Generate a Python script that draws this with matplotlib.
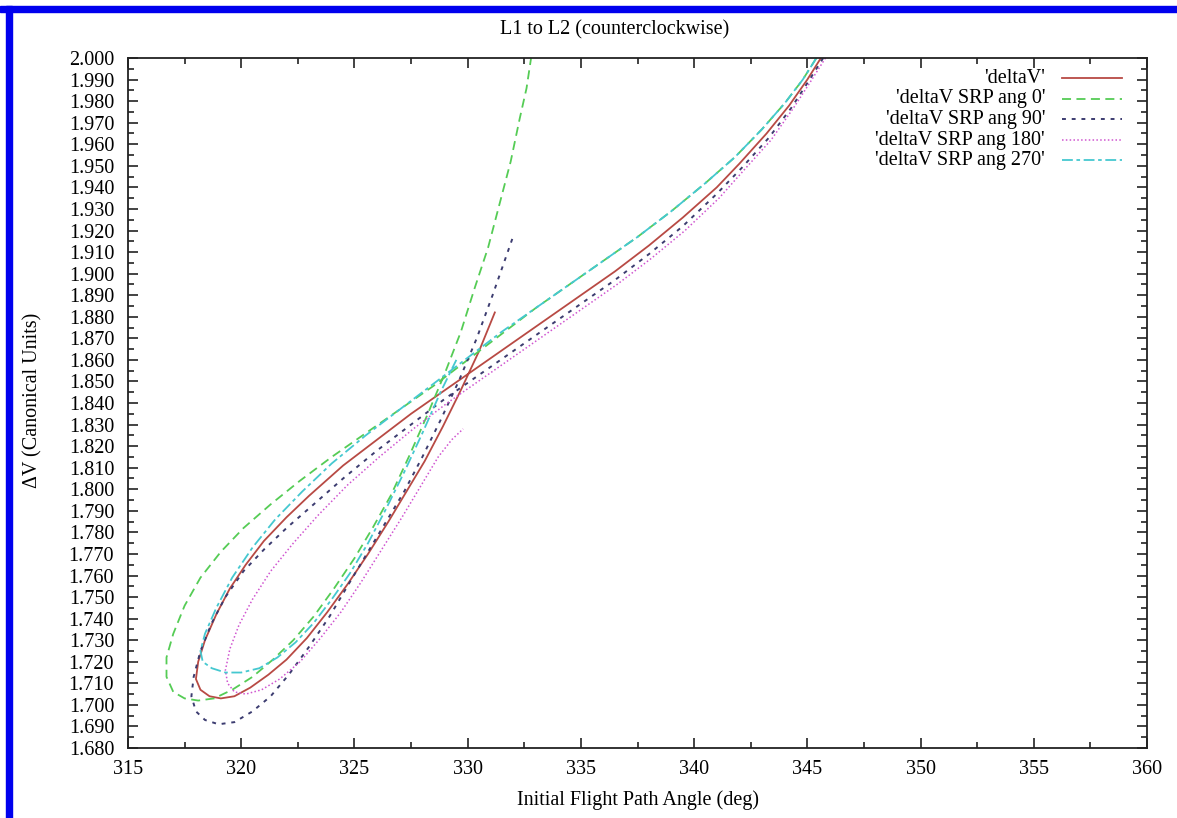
import numpy as np
import matplotlib
matplotlib.use("Agg")
import matplotlib.pyplot as plt
from matplotlib.patches import Rectangle
from matplotlib.ticker import MultipleLocator, FormatStrFormatter

# curves (angle in deg, deltaV in canonical units)
dv_x = [345.6, 345.0, 344.2, 343.2, 342.0, 341.0, 339.5, 338.0, 336.5, 335.0, 333.5, 332.0,
        330.5, 329.0, 327.5, 326.0, 324.5, 323.0, 322.0, 321.0, 320.2, 319.5, 318.9, 318.4,
        318.1, 318.0, 318.2, 318.6, 319.1, 319.7, 320.4, 321.2, 322.0, 322.9, 323.8, 324.7,
        325.6, 326.5, 327.3, 328.1, 328.9, 329.7, 330.5, 331.2]
dv_y = [2.000, 1.990, 1.978, 1.965, 1.951, 1.940, 1.926, 1.913, 1.901, 1.890, 1.879, 1.868,
        1.857, 1.846, 1.835, 1.823, 1.811, 1.797, 1.787, 1.776, 1.765, 1.754, 1.742, 1.730,
        1.720, 1.712, 1.707, 1.704, 1.703, 1.704, 1.708, 1.714, 1.721, 1.731, 1.743, 1.756,
        1.770, 1.785, 1.799, 1.813, 1.829, 1.846, 1.864, 1.882]

a0_x = [345.4, 344.8, 344.0, 343.0, 341.8, 340.5, 339.0, 337.5, 336.0, 334.5, 333.0, 331.5,
        330.0, 328.5, 327.0, 325.5, 324.0, 322.6, 321.3, 320.1, 319.1, 318.2, 317.5, 317.0,
        316.7, 316.7, 317.0, 317.5, 318.1, 318.8, 319.6, 320.5, 321.4, 322.3, 323.2, 324.1,
        325.0, 325.8, 326.6, 327.4, 328.2, 329.0, 329.7, 330.3, 330.9, 331.4, 331.9, 332.3,
        332.6, 332.8]
a0_y = [2.000, 1.990, 1.979, 1.967, 1.954, 1.942, 1.929, 1.917, 1.906, 1.895, 1.884, 1.872,
        1.860, 1.848, 1.837, 1.826, 1.815, 1.804, 1.793, 1.782, 1.771, 1.759, 1.746, 1.733,
        1.722, 1.713, 1.706, 1.703, 1.702, 1.703, 1.707, 1.713, 1.721, 1.730, 1.741, 1.754,
        1.768, 1.782, 1.797, 1.815, 1.834, 1.854, 1.873, 1.893, 1.912, 1.932, 1.952, 1.972,
        1.986, 2.000]

a90_x = [345.7, 345.1, 344.3, 343.3, 342.1, 341.0, 339.5, 338.0, 336.5, 335.0, 333.5, 332.0,
         330.5, 329.0, 327.5, 326.0, 324.5, 323.2, 322.0, 321.0, 320.1, 319.3, 318.7, 318.2,
         317.9, 317.8, 318.0, 318.4, 319.0, 319.7, 320.5, 321.3, 322.1, 323.0, 323.9, 324.8,
         325.6, 326.4, 327.2, 328.0, 328.8, 329.6, 330.4, 331.1, 331.7, 332.0]
a90_y = [2.000, 1.990, 1.977, 1.963, 1.949, 1.937, 1.922, 1.909, 1.897, 1.886, 1.875, 1.864,
         1.853, 1.842, 1.830, 1.818, 1.805, 1.793, 1.782, 1.772, 1.762, 1.750, 1.738, 1.725,
         1.713, 1.704, 1.697, 1.693, 1.691, 1.692, 1.697, 1.704, 1.714, 1.727, 1.741, 1.757,
         1.771, 1.785, 1.799, 1.815, 1.832, 1.850, 1.870, 1.890, 1.908, 1.917]

a180_x = [345.8, 345.2, 344.4, 343.4, 342.2, 341.1, 339.6, 338.1, 336.6, 335.1, 333.6, 332.1,
          330.6, 329.1, 327.6, 326.1, 324.7, 323.4, 322.3, 321.3, 320.5, 319.9, 319.5, 319.3,
          319.4, 319.7, 320.2, 320.9, 321.7, 322.6, 323.5, 324.4, 325.3, 326.2, 327.1, 327.9,
          328.7, 329.3, 329.8]
a180_y = [2.000, 1.990, 1.977, 1.962, 1.948, 1.935, 1.920, 1.907, 1.895, 1.884, 1.873, 1.862,
          1.851, 1.840, 1.828, 1.815, 1.802, 1.788, 1.775, 1.762, 1.749, 1.737, 1.726, 1.716,
          1.710, 1.706, 1.705, 1.707, 1.712, 1.720, 1.731, 1.743, 1.757, 1.772, 1.787, 1.801,
          1.815, 1.823, 1.828]

a270_x = [345.4, 344.8, 344.0, 343.0, 341.8, 340.5, 339.0, 337.5, 336.0, 334.5, 333.0, 331.5,
          330.0, 328.5, 327.0, 325.5, 324.0, 322.7, 321.5, 320.5, 319.6, 318.9, 318.4, 318.2,
          318.3, 318.7, 319.3, 320.0, 320.8, 321.6, 322.4, 323.2, 324.0, 324.8, 325.6, 326.4,
          327.2, 328.0, 328.8, 329.5]
a270_y = [2.000, 1.990, 1.979, 1.967, 1.954, 1.942, 1.929, 1.917, 1.906, 1.895, 1.884, 1.873,
          1.861, 1.849, 1.837, 1.825, 1.812, 1.799, 1.786, 1.773, 1.759, 1.745, 1.733, 1.725,
          1.720, 1.717, 1.715, 1.715, 1.717, 1.722, 1.729, 1.738, 1.749, 1.761, 1.775, 1.791,
          1.808, 1.826, 1.845, 1.860]

labels = ["'deltaV'", "'deltaV SRP ang 0'", "'deltaV SRP ang 90'",
          "'deltaV SRP ang 180'", "'deltaV SRP ang 270'"]

plt.rcParams['font.family'] = ['Liberation Serif', 'DejaVu Serif']
plt.rcParams['font.size'] = 14.5

fig = plt.figure(figsize=(11.77, 8.18), dpi=100)
ax = fig.add_axes([128/1177, 1 - 748/818, 1019/1177, 690/818])

styles = [
    dict(color='#b84a44', lw=1.3, ls='-'),
    dict(color='#55cc55', lw=1.3, ls=(0, (5, 3))),
    dict(color='#3c3c70', lw=1.4, ls=(0, (2, 3))),
    dict(color='#d055d0', lw=1.1, ls=(0, (1, 1.5))),
    dict(color='#45c8d0', lw=1.3, ls=(0, (6, 2, 2, 2))),
]
series = [(dv_x, dv_y), (a0_x, a0_y), (a90_x, a90_y), (a180_x, a180_y), (a270_x, a270_y)]

for (xs, ys), st in zip(series, styles):
    ax.plot(xs, ys, **st)

ax.set_xlim(315, 360)
ax.set_ylim(1.68, 2.0)
ax.xaxis.set_major_locator(MultipleLocator(5))
ax.xaxis.set_minor_locator(MultipleLocator(2.5))
ax.yaxis.set_major_locator(MultipleLocator(0.01))
ax.yaxis.set_minor_locator(MultipleLocator(0.005))
ax.yaxis.set_major_formatter(FormatStrFormatter('%.3f'))
ax.tick_params(which='both', direction='in', top=True, right=True, color='#222222')
ax.tick_params(which='major', length=7, width=1.2)
ax.tick_params(which='minor', length=4, width=1.2)
ax.tick_params(axis='y', pad=10)
ax.tick_params(axis='x', pad=9)
for sp in ax.spines.values():
    sp.set_linewidth(1.3)
    sp.set_color('#222222')

# legend drawn by hand so texts are right aligned like gnuplot
rows = [0.971, 0.941, 0.911, 0.881, 0.852]
for lab, st, yy in zip(labels, styles, rows):
    ax.text(0.900, yy, lab, transform=ax.transAxes, ha='right', va='center')
    ax.plot([0.9166, 0.9755], [yy, yy], transform=ax.transAxes, clip_on=False, **st)

fig.text(615/1177, 1 - 30/818, 'L1 to L2 (counterclockwise)', ha='center', va='center')
fig.text(638/1177, 1 - 800/818, 'Initial Flight Path Angle (deg)', ha='center', va='center')
fig.text(33/1177, 1 - 400/818, '\u0394V (Canonical Units)', ha='center', va='center', rotation=90)

# blue frame on the top and left edge
fig.patches.append(Rectangle((0, 1 - 12/818), 1, 6/818, transform=fig.transFigure,
                             color='#0000ee', zorder=10))
fig.patches.append(Rectangle((6/1177, 0), 6/1177, 1 - 6/818, transform=fig.transFigure,
                             color='#0000ee', zorder=10))

fig.savefig('out.png', dpi=100)
